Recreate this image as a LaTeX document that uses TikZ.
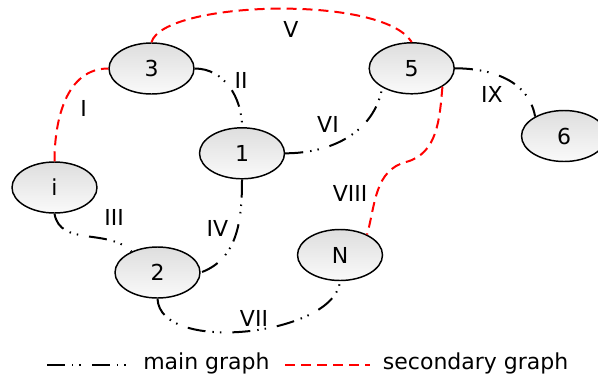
\documentclass[tikz,border=0pt]{standalone}
\usepackage{fontspec}
\setmainfont{DejaVu Sans}
\usetikzlibrary{shapes.geometric}

\begin{document}
\begin{tikzpicture}[x=0.75pt,y=0.75pt,
  nd/.style={ellipse,draw=black,line width=1.1pt,top color=black!13,bottom color=black!2,
             minimum width=63.75pt,minimum height=38.25pt,inner sep=0pt,font=\fontsize{16.5}{20}\selectfont},
  maing/.style={line width=1.5pt,dash pattern=on 13.5pt off 5.25pt on 1.1pt off 4.5pt on 1.1pt off 8.25pt},
  secg/.style={line width=1.5pt,red,dash pattern=on 7.5pt off 4.5pt},
  lbl/.style={font=\fontsize{16.5}{20}\selectfont,inner sep=0pt}
]
  \useasboundingbox (0,0) rectangle (598,376);
  \node[nd] (n3) at (151.5,307.5) {3};
  \node[nd] (n1) at (242,222.7) {1};
  \node[nd] (ni) at (54.5,188.5) {i};
  \node[nd] (n5) at (411.7,307.7) {5};
  \node[nd] (n6) at (564,240) {6};
  \node[nd] (n2) at (157.5,103.5) {2};
  \node[nd] (nN) at (340,121) {N};
  \coordinate (kink) at (406,214);

  \draw[secg] (ni.north) to[out=90,in=180] (n3.west);
  \draw[secg] (n3.north) .. controls (163,375) and (382,382) .. (n5.north);
  \draw[secg] (n5.-31) to[out=-95,in=15] (kink) to[out=195,in=75] (nN.37);
  \draw[maing] (n3.east) to[out=0,in=90] (n1.north);
  \draw[maing] (n1.east) to[out=0,in=-100] (n5.213);
  \draw[maing] (n5.east) to[out=0,in=100] (n6.146);
  \draw[maing] (ni.south) to[out=-80,in=135] (n2.141);
  \draw[maing] (n1.south) to[out=-90,in=20] (n2.east);
  \draw[maing] (n2.south) .. controls (160,21) and (335,41) .. (nN.south);

  \node[lbl] (lI) at (83.5,267.5) {I};
  \node[lbl] (lV) at (291,347) {V};
  \node[lbl] (lII) at (241,296) {II};
  \node[lbl] (lVI) at (328,252) {VI};
  \node[lbl] (lIX) at (492,282) {IX};
  \node[lbl] (lVIII) at (350,183) {VIII};
  \node[lbl] (lIII) at (114,159) {III};
  \node[lbl] (lIV) at (217.5,148) {IV};
  \node[lbl] (lVII) at (254,58) {VII};

  \coordinate (mA) at (47,11);
  \coordinate (mB) at (130,11);
  \coordinate (sA) at (285,11);
  \coordinate (sB) at (370,11);
  \draw[maing] (mA) -- (mB);
  \draw[secg] (sA) -- (sB);
  \node[lbl,anchor=base west] (tmain) at (143,6.5) {main graph};
  \node[lbl,anchor=base west] (tsec) at (382.7,6.5) {secondary graph};
\end{tikzpicture}
\end{document}
